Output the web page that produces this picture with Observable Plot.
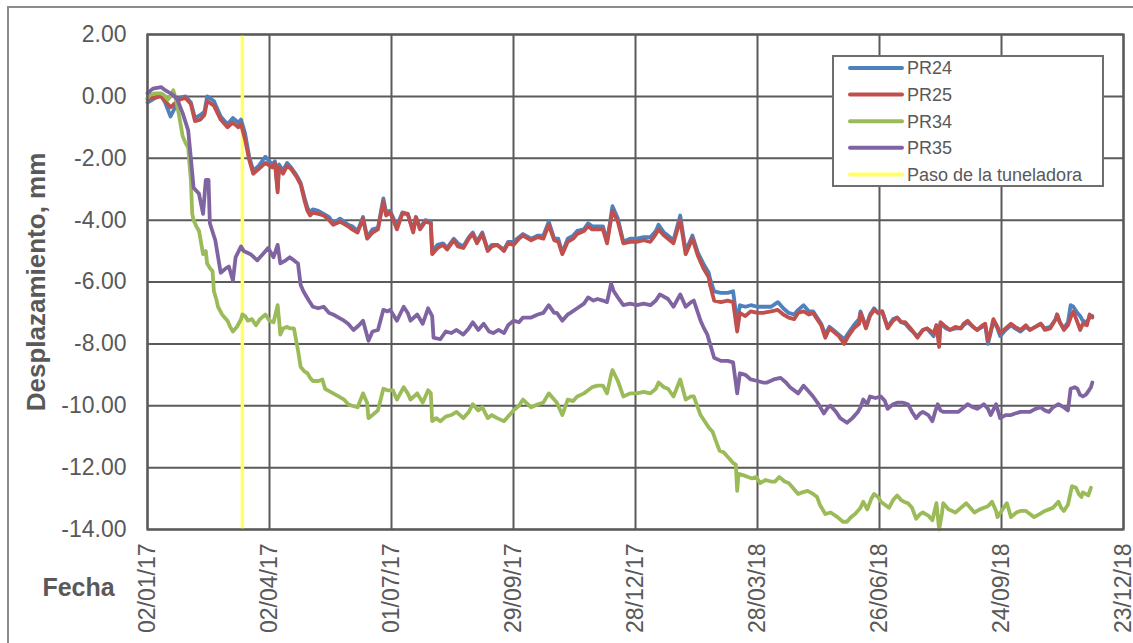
<!DOCTYPE html>
<html>
<head>
<meta charset="utf-8">
<script src="https://cdn.jsdelivr.net/npm/d3@7"></script>
<script src="https://cdn.jsdelivr.net/npm/@observablehq/plot@0.6"></script>
<style>
  html, body { margin:0; padding:0; background:#fff; overflow:hidden; }
  #wrap { position:relative; width:1133px; height:643px; overflow:hidden; font-family:"Liberation Sans", Arial, sans-serif; }
  #outer { position:absolute; left:7px; top:6px; width:1200px; height:700px; border:2px solid #8c8c8c; box-sizing:border-box; }
  #chart { position:absolute; left:0; top:0; }
  #legend { position:absolute; left:832px; top:55px; width:272px; height:132px; border:2px solid #6e6e6e; background:#fff; box-sizing:border-box; }
</style>
</head>
<body>
<div id="wrap">
  <div id="outer"></div>
  <div id="chart"></div>
  <div id="legend"></div>
</div>
<script>
// ---- Data ----
const startLabel = "02/01/17";           // day 0 of the series
const tickLabels = ["02/01/17","02/04/17","01/07/17","29/09/17","28/12/17","28/03/18","26/06/18","24/09/18","23/12/18"];
const yTicks = [2, 0, -2, -4, -6, -8, -10, -12, -14];
const tbmLabel = "13/03/17";             // Paso de la tuneladora
const seriesNames = ["PR24", "PR25", "PR34", "PR35", "Paso de la tuneladora"];
const seriesColors = ["#4F81BD", "#C0504D", "#9BBB59", "#8064A2", "#FFFF66"];

// days since 02/01/17, shared by PR24 and PR25
const daysPR24_25 = [0,4,10,13,17,21,24,28,32,35,39,42,44,49,54,59,63,67,69,72,75,78,82,87,92,94,96,97,100,103,106,110,113,116,118,120,122,126,130,134,137,142,148,151,155,159,162,166,170,174,176,179,184,188,192,196,198,201,205,209,210,214,218,221,226,229,233,237,240,243,247,251,254,258,263,266,270,274,277,283,288,292,296,300,303,306,310,314,317,322,325,328,332,336,339,343,347,351,356,361,366,371,375,377,381,384,388,393,397,401,402,406,410,414,415,418,423,428,432,435,437,441,445,450,454,460,465,469,473,477,480,484,488,491,494,497,500,503,506,510,514,517,521,525,526,530,533,536,539,542,546,550,553,556,559,563,568,572,575,580,582,584,585,589,592,596,600,602,605,609,612,616,618,620,622,624,627,629,633,637,640,644,648,651,655,659,662,666,670,671,673,676,679,681,683,686,688,690,693,695,697];
const PR25 = [-0.1,-0.05,0.0,-0.15,-0.35,-0.2,-0.1,-0.05,-0.25,-0.8,-0.75,-0.6,-0.15,-0.3,-0.75,-1.0,-0.85,-1.0,-0.9,-1.4,-2.05,-2.5,-2.35,-2.15,-2.3,-2.15,-3.1,-2.3,-2.5,-2.25,-2.35,-2.6,-2.85,-3.4,-3.7,-3.85,-3.75,-3.8,-3.85,-4.0,-4.15,-4.05,-4.2,-4.3,-4.4,-3.95,-4.6,-4.4,-4.3,-3.4,-3.85,-3.75,-4.3,-3.8,-3.8,-4.4,-3.9,-4.3,-4.05,-4.1,-5.1,-4.9,-4.8,-4.95,-4.65,-4.85,-4.9,-4.6,-4.45,-4.75,-4.45,-5.0,-4.85,-4.8,-5.0,-4.75,-4.8,-4.6,-4.5,-4.65,-4.55,-4.6,-4.15,-4.65,-4.7,-5.1,-4.7,-4.6,-4.45,-4.35,-4.2,-4.3,-4.3,-4.3,-4.75,-3.7,-4.05,-4.75,-4.7,-4.7,-4.65,-4.7,-4.45,-4.3,-4.5,-4.6,-4.75,-4.0,-5.1,-4.7,-4.6,-5.15,-5.55,-5.85,-6.1,-6.6,-6.65,-6.6,-6.65,-7.6,-7.0,-7.1,-6.95,-7.0,-7.0,-6.95,-6.9,-7.05,-7.15,-7.2,-7.0,-6.95,-7.05,-7.0,-7.2,-7.4,-7.8,-7.5,-7.6,-7.75,-8.0,-7.75,-7.5,-7.35,-7.0,-7.5,-7.1,-6.9,-7.0,-6.95,-7.5,-7.25,-7.15,-7.3,-7.3,-7.5,-7.8,-7.55,-7.5,-7.65,-7.4,-8.1,-7.3,-7.45,-7.55,-7.45,-7.5,-7.35,-7.25,-7.45,-7.55,-7.4,-7.35,-7.9,-7.6,-7.2,-7.45,-7.65,-7.5,-7.35,-7.45,-7.55,-7.4,-7.55,-7.45,-7.35,-7.55,-7.5,-7.2,-7.05,-7.3,-7.55,-7.4,-7.15,-6.95,-7.3,-7.55,-7.35,-7.4,-7.05,-7.15];
const PR24 = [-0.2,-0.1,0.05,-0.2,-0.65,-0.3,-0.05,0.0,-0.2,-0.7,-0.6,-0.5,0.0,-0.15,-0.65,-0.9,-0.7,-0.85,-0.75,-1.2,-1.95,-2.4,-2.25,-1.95,-2.2,-2.1,-3.0,-2.2,-2.4,-2.15,-2.3,-2.55,-2.8,-3.3,-3.6,-3.75,-3.65,-3.7,-3.8,-3.9,-4.1,-3.95,-4.15,-4.2,-4.35,-3.9,-4.55,-4.3,-4.25,-3.3,-3.75,-3.7,-4.2,-3.75,-3.8,-4.35,-3.9,-4.25,-4.0,-4.05,-5.0,-4.8,-4.75,-4.9,-4.6,-4.75,-4.85,-4.55,-4.4,-4.7,-4.4,-4.95,-4.8,-4.8,-4.95,-4.7,-4.7,-4.55,-4.45,-4.6,-4.5,-4.5,-4.05,-4.6,-4.6,-5.05,-4.6,-4.5,-4.35,-4.3,-4.1,-4.2,-4.2,-4.2,-4.7,-3.55,-3.95,-4.7,-4.6,-4.6,-4.55,-4.55,-4.35,-4.15,-4.4,-4.5,-4.65,-3.85,-5.0,-4.6,-4.5,-5.05,-5.4,-5.7,-5.9,-6.3,-6.35,-6.35,-6.3,-7.3,-6.75,-6.8,-6.75,-6.8,-6.8,-6.8,-6.65,-6.85,-7.0,-7.05,-6.9,-6.75,-6.95,-6.95,-7.15,-7.35,-7.7,-7.45,-7.55,-7.7,-7.85,-7.65,-7.4,-7.2,-6.95,-7.45,-7.05,-6.85,-7.0,-6.95,-7.45,-7.2,-7.15,-7.3,-7.35,-7.55,-7.75,-7.55,-7.5,-7.75,-7.4,-7.9,-7.35,-7.5,-7.55,-7.5,-7.5,-7.4,-7.3,-7.45,-7.55,-7.45,-7.4,-8.0,-7.65,-7.25,-7.5,-7.75,-7.55,-7.4,-7.5,-7.6,-7.45,-7.55,-7.45,-7.35,-7.5,-7.45,-7.2,-7.05,-7.3,-7.5,-7.3,-6.75,-6.8,-7.0,-7.1,-7.25,-7.3,-7.15,-7.1];

const daysPR34 = [0,2,6,10,12,15,17,19,21,23,26,28,30,31,32,33,34,36,38,41,43,44,46,48,49,51,52,55,59,61,63,66,69,70,72,74,77,80,83,87,90,93,96,97,98,100,103,105,108,111,113,116,118,120,122,126,129,131,133,137,141,145,148,151,155,159,162,163,166,170,174,177,181,184,189,192,194,199,203,207,209,210,213,216,220,224,228,233,237,240,244,247,251,254,258,263,266,270,274,277,283,288,292,296,300,302,306,310,314,317,322,325,328,332,336,339,342,343,347,351,356,361,366,371,375,377,381,384,388,393,397,401,403,408,411,414,417,419,422,425,429,432,434,435,436,440,443,446,449,452,456,460,463,466,470,473,477,480,483,487,491,494,496,500,504,509,513,516,519,522,526,528,531,534,536,539,541,544,547,550,553,556,558,561,564,567,570,572,576,579,582,584,586,587,591,596,600,604,607,610,614,617,620,623,626,627,630,634,636,637,641,644,648,651,654,658,662,665,668,672,674,676,679,682,685,687,689,690,692,694,696];
const PR34 = [-0.05,0.05,0.1,0.1,0.05,-0.1,0.0,0.2,-0.1,-0.55,-1.3,-1.5,-1.65,-2.2,-2.7,-3.8,-4.0,-4.2,-4.35,-5.1,-5.0,-5.4,-5.55,-5.65,-6.3,-6.6,-6.8,-7.05,-7.25,-7.45,-7.6,-7.45,-7.2,-7.05,-7.1,-7.25,-7.2,-7.4,-7.2,-7.05,-7.25,-7.3,-6.75,-7.2,-7.7,-7.5,-7.45,-7.5,-7.5,-8.2,-8.75,-8.9,-8.95,-9.1,-9.2,-9.2,-9.15,-9.45,-9.5,-9.6,-9.7,-9.8,-9.95,-10.0,-10.05,-9.6,-9.9,-10.4,-10.3,-10.15,-9.45,-9.5,-9.5,-9.8,-9.4,-9.6,-9.8,-9.6,-9.9,-9.5,-9.6,-10.5,-10.4,-10.5,-10.35,-10.3,-10.2,-10.4,-10.2,-9.95,-10.15,-10.05,-10.4,-10.3,-10.4,-10.5,-10.35,-10.15,-10.0,-9.8,-10.05,-9.95,-9.9,-9.6,-9.8,-9.9,-10.3,-9.8,-9.85,-9.7,-9.6,-9.5,-9.4,-9.35,-9.35,-9.6,-9.0,-8.85,-9.2,-9.7,-9.6,-9.6,-9.55,-9.6,-9.45,-9.25,-9.4,-9.45,-9.7,-9.15,-9.8,-9.7,-9.7,-10.3,-10.5,-10.7,-10.85,-11.1,-11.45,-11.5,-11.7,-11.85,-11.9,-12.75,-12.2,-12.25,-12.3,-12.35,-12.3,-12.5,-12.4,-12.45,-12.45,-12.3,-12.45,-12.5,-12.7,-12.85,-12.8,-12.75,-12.85,-12.95,-13.2,-13.5,-13.45,-13.6,-13.75,-13.75,-13.6,-13.5,-13.3,-13.1,-13.35,-13.0,-12.85,-12.95,-13.1,-13.2,-13.3,-13.05,-12.9,-13.05,-13.1,-13.15,-13.3,-13.65,-13.5,-13.45,-13.55,-13.7,-13.15,-14.0,-13.5,-13.15,-13.35,-13.45,-13.3,-13.15,-13.3,-13.45,-13.35,-13.3,-13.25,-13.1,-13.4,-13.6,-13.4,-13.15,-13.45,-13.6,-13.45,-13.4,-13.4,-13.5,-13.6,-13.5,-13.4,-13.35,-13.3,-13.1,-13.3,-13.4,-13.2,-12.6,-12.65,-12.85,-12.95,-12.8,-12.85,-12.9,-12.65];

const daysPR35 = [0,4,10,13,17,20,22,26,30,32,34,38,41,43,45,46,50,54,58,60,63,65,69,71,76,81,85,89,93,96,98,102,105,111,113,115,119,122,126,130,134,137,141,145,148,152,156,159,163,166,170,174,177,179,184,189,192,194,199,203,207,210,211,216,220,224,228,233,237,240,244,248,252,255,259,263,266,270,274,277,283,288,292,296,300,302,306,310,312,317,322,325,329,332,336,339,342,344,347,351,356,361,366,371,375,378,384,388,393,397,401,403,408,410,413,415,418,423,428,432,435,437,441,445,450,454,457,462,467,471,474,480,484,488,491,495,499,502,504,508,511,516,520,524,526,528,531,533,537,541,544,546,550,553,557,561,564,567,570,572,576,579,581,583,585,587,592,598,601,605,609,612,617,620,622,626,629,633,637,640,644,648,651,655,659,662,665,668,672,676,679,681,684,686,688,690,692,693,696,697];
const PR35 = [0.1,0.25,0.3,0.2,0.1,0.0,-0.1,-0.55,-1.1,-2.0,-2.95,-3.15,-3.8,-2.7,-2.7,-4.1,-4.65,-5.7,-5.55,-5.5,-5.95,-5.2,-4.85,-5.0,-5.1,-5.3,-5.1,-4.9,-5.2,-4.8,-5.4,-5.3,-5.2,-5.4,-6.1,-6.3,-6.6,-6.8,-6.85,-6.8,-7.0,-7.05,-7.15,-7.25,-7.35,-7.55,-7.4,-7.25,-7.9,-7.6,-7.55,-6.9,-6.95,-6.9,-7.25,-6.8,-7.0,-7.25,-7.05,-7.35,-6.85,-7.1,-7.8,-7.85,-7.6,-7.65,-7.55,-7.7,-7.5,-7.3,-7.55,-7.35,-7.6,-7.65,-7.55,-7.65,-7.4,-7.25,-7.3,-7.15,-7.15,-7.05,-7.0,-6.75,-7.0,-7.0,-7.25,-7.05,-7.0,-6.85,-6.7,-6.5,-6.6,-6.55,-6.6,-6.65,-6.05,-6.3,-6.5,-6.75,-6.7,-6.75,-6.7,-6.75,-6.6,-6.4,-6.55,-6.8,-6.4,-6.8,-6.65,-6.6,-7.25,-7.45,-7.7,-8.0,-8.45,-8.55,-8.55,-8.6,-9.6,-8.95,-9.0,-9.15,-9.2,-9.25,-9.25,-9.15,-9.1,-9.25,-9.4,-9.6,-9.35,-9.55,-9.7,-9.95,-10.25,-10.05,-10.0,-10.2,-10.4,-10.55,-10.4,-10.2,-10.05,-9.8,-9.95,-9.7,-9.75,-9.7,-9.85,-10.1,-9.95,-9.9,-9.9,-9.95,-10.2,-10.4,-10.25,-10.2,-10.3,-10.5,-10.2,-9.95,-10.15,-10.2,-10.2,-10.2,-10.1,-9.95,-10.05,-10.1,-9.95,-10.1,-10.3,-9.95,-10.4,-10.3,-10.3,-10.25,-10.2,-10.2,-10.2,-10.1,-10.05,-10.15,-10.2,-10.05,-9.95,-10.05,-10.15,-9.45,-9.4,-9.45,-9.65,-9.7,-9.65,-9.6,-9.4,-9.25];

// ---- Build ----
const parse = d3.utcParse("%d/%m/%y");
const start = parse(startLabel);
const tickDates = tickLabels.map(parse);
const labelOf = new Map(tickDates.map((d, i) => [+d, tickLabels[i]]));
const tbmDate = parse(tbmLabel);
const toDate = n => d3.utcDay.offset(start, n);

function rows(name, days, vals) {
  return days.map((d, i) => ({serie: name, date: toDate(d), value: vals[i]}));
}
const data = [
  ...rows("PR24", daysPR24_25, PR24),
  ...rows("PR25", daysPR24_25, PR25),
  ...rows("PR34", daysPR34, PR34),
  ...rows("PR35", daysPR35, PR35)
];

const grid = "#5a5a5a";
const font = "'Liberation Sans', Arial, sans-serif";

const lineOpts = (name, i) => Plot.line(data.filter(r => r.serie === name), {
  x: "date", y: "value", stroke: seriesColors[i], strokeWidth: 3.8,
  strokeLinejoin: "round", strokeLinecap: "round", curve: "linear"
});

const chart = Plot.plot({
  width: 1133,
  height: 643,
  marginLeft: 147,
  marginRight: 10,
  marginTop: 34,
  marginBottom: 114,
  x: {type: "utc", domain: [tickDates[0], tickDates[tickDates.length - 1]]},
  y: {domain: [-14, 2]},
  style: {fontFamily: font, fontSize: "23px", color: "#595959", background: "transparent", overflow: "visible"},
  marks: [
    Plot.gridX(tickDates, {stroke: grid, strokeOpacity: 1, strokeWidth: 2}),
    Plot.gridY(yTicks, {stroke: grid, strokeOpacity: 1, strokeWidth: 2}),
    Plot.ruleX([tbmDate], {stroke: seriesColors[4], strokeWidth: 3.5}),
    lineOpts("PR24", 0),
    lineOpts("PR25", 1),
    lineOpts("PR34", 2),
    lineOpts("PR35", 3),
    Plot.frame({stroke: grid, strokeWidth: 2.2}),
    Plot.axisY(yTicks, {tickSize: 0, tickPadding: 21, tickFormat: d => d.toFixed(2), label: null, fontSize: 23, fill: "#595959"}),
    Plot.axisX(tickDates, {tickSize: 0, tickPadding: 14, tickRotate: -90, tickFormat: d => labelOf.get(+d), label: null, fontSize: 23, fill: "#595959"}),
    Plot.text(["Desplazamiento, mm"], {frameAnchor: "left", dx: -111, rotate: -90, text: d => d, fontSize: 26, fontWeight: "bold", fill: "#595959", textAnchor: "middle", lineAnchor: "middle"}),
    Plot.text(["Fecha"], {frameAnchor: "bottom-left", dx: -69, dy: 58, text: d => d, fontSize: 25, fontWeight: "bold", fill: "#595959", textAnchor: "middle", lineAnchor: "middle"})
  ]
});
document.getElementById("chart").appendChild(chart);

// ---- Legend (inside plot area, as in the reference) ----
const leg = d3.select("#legend").append("svg").attr("width", 268).attr("height", 128)
  .style("font-family", font);
seriesNames.forEach((name, i) => {
  const y = 11 + i * 26.6;
  leg.append("line").attr("x1", 16).attr("x2", 68).attr("y1", y).attr("y2", y)
    .attr("stroke", seriesColors[i]).attr("stroke-width", 4).attr("stroke-linecap", "round");
  leg.append("text").attr("x", 73).attr("y", y).attr("dy", "0.35em")
    .attr("font-size", 18).attr("fill", "#595959").text(name);
});
</script>
</body>
</html>
